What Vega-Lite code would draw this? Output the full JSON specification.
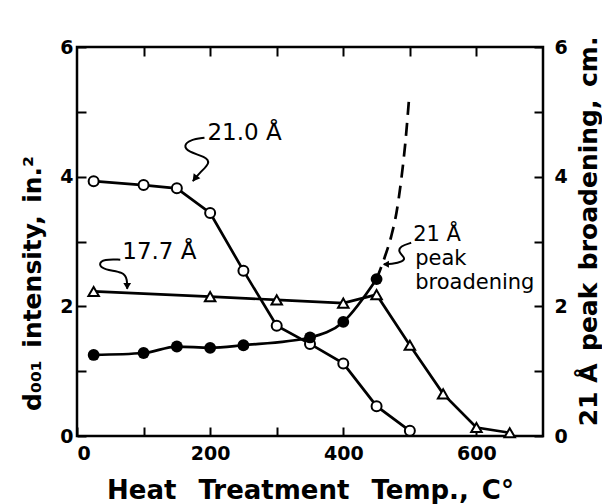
{
  "$schema": "https://vega.github.io/schema/vega-lite/v6.json",
  "width": 466,
  "height": 389,
  "autosize": "none",
  "padding": {"left": 77, "top": 47, "right": 59, "bottom": 68},
  "background": "white",
  "config": {
    "view": {"stroke": "black", "strokeWidth": 2.5},
    "font": "DejaVu Sans",
    "axis": {
      "domain": false, "grid": false, "ticks": true,
      "tickColor": "black", "tickWidth": 2, "tickSize": -9,
      "labelFont": "DejaVu Sans", "labelFontWeight": "bold", "labelFontSize": 19, "labelColor": "black",
      "titleFont": "DejaVu Sans", "titleFontWeight": "bold", "titleColor": "black"
    }
  },
  "datasets": {
    "open": [
      {"temp": 25, "v": 3.93}, {"temp": 100, "v": 3.87}, {"temp": 150, "v": 3.82}, {"temp": 200, "v": 3.44},
      {"temp": 250, "v": 2.55}, {"temp": 300, "v": 1.70}, {"temp": 350, "v": 1.42}, {"temp": 400, "v": 1.12},
      {"temp": 450, "v": 0.46}, {"temp": 500, "v": 0.08}
    ],
    "tri": [
      {"temp": 25, "v": 2.23}, {"temp": 200, "v": 2.15}, {"temp": 300, "v": 2.10}, {"temp": 400, "v": 2.05},
      {"temp": 450, "v": 2.18}, {"temp": 500, "v": 1.40}, {"temp": 550, "v": 0.65}, {"temp": 600, "v": 0.13},
      {"temp": 650, "v": 0.05}
    ],
    "filled": [
      {"temp": 25, "v": 1.25}, {"temp": 100, "v": 1.28}, {"temp": 150, "v": 1.38}, {"temp": 200, "v": 1.36},
      {"temp": 250, "v": 1.40}, {"temp": 350, "v": 1.52}, {"temp": 400, "v": 1.76}, {"temp": 450, "v": 2.42}
    ],
    "dash": [
      {"temp": 450, "v": 2.42}, {"temp": 462, "v": 2.75}, {"temp": 472, "v": 3.08}, {"temp": 480, "v": 3.45},
      {"temp": 487, "v": 3.95}, {"temp": 493, "v": 4.5}, {"temp": 499, "v": 5.23}
    ],
    "notes": [
      {"label": "21.0 Å", "temp": 196, "v": 4.68, "g": "big"},
      {"label": "17.7 Å", "temp": 68, "v": 2.84, "g": "big"},
      {"label": "21 Å", "temp": 505, "v": 3.10, "g": "small"},
      {"label": "peak", "temp": 508, "v": 2.73, "g": "small"},
      {"label": "broadening", "temp": 508, "v": 2.36, "g": "small"}
    ],
    "squig": [
      {"a": "s1", "o": 1, "temp": 191.5, "v": 4.60}, {"a": "s1", "o": 2, "temp": 170, "v": 4.57},
      {"a": "s1", "o": 3, "temp": 160, "v": 4.48}, {"a": "s1", "o": 4, "temp": 167, "v": 4.38},
      {"a": "s1", "o": 5, "temp": 193, "v": 4.31}, {"a": "s1", "o": 6, "temp": 200.5, "v": 4.21},
      {"a": "s1", "o": 7, "temp": 185, "v": 4.07}, {"a": "s1", "o": 8, "temp": 174, "v": 3.93},
      {"a": "s2", "o": 1, "temp": 65, "v": 2.72}, {"a": "s2", "o": 2, "temp": 40.7, "v": 2.73},
      {"a": "s2", "o": 3, "temp": 31.7, "v": 2.65}, {"a": "s2", "o": 4, "temp": 40.7, "v": 2.56},
      {"a": "s2", "o": 5, "temp": 70.9, "v": 2.53}, {"a": "s2", "o": 6, "temp": 75.4, "v": 2.41},
      {"a": "s2", "o": 7, "temp": 75.4, "v": 2.27},
      {"a": "s3", "o": 1, "temp": 502, "v": 2.98}, {"a": "s3", "o": 2, "temp": 485.5, "v": 2.93},
      {"a": "s3", "o": 3, "temp": 482.4, "v": 2.84}, {"a": "s3", "o": 4, "temp": 493, "v": 2.75},
      {"a": "s3", "o": 5, "temp": 490, "v": 2.69}, {"a": "s3", "o": 6, "temp": 472, "v": 2.65},
      {"a": "s3", "o": 7, "temp": 461, "v": 2.65}
    ],
    "tips": [
      {"a": "s1", "temp": 177, "v": 3.97},
      {"a": "s2", "temp": 75.4, "v": 2.31},
      {"a": "s3", "temp": 464, "v": 2.65}
    ]
  },
  "resolve": {"axis": {"x": "independent", "y": "independent"}},
  "layer": [
    {
      "data": {"name": "open"},
      "mark": {"type": "line", "color": "black", "strokeWidth": 2.7},
      "encoding": {
        "x": {"field": "temp", "type": "quantitative", "scale": {"domain": [0, 700], "nice": false},
          "axis": {"orient": "bottom", "values": [0, 100, 200, 300, 400, 500, 600],
            "labelExpr": "datum.value % 200 == 0 ? datum.label : ''", "labelPadding": 17,
            "title": "Heat\u2002 Treatment\u2002 Temp.,\u2002C°", "titleFontSize": 26, "titleY": 54, "titleBaseline": "middle"}},
        "y": {"field": "v", "type": "quantitative", "scale": {"domain": [0, 6], "nice": false},
          "axis": {"orient": "left", "values": [0, 1, 2, 3, 4, 5, 6],
            "labelExpr": "datum.value % 2 == 0 ? datum.label : ''", "labelPadding": 13,
            "title": "d₀₀₁\u2002intensity,\u2002in.²", "titleFontSize": 25, "titleAngle": -90,
            "titleX": -45, "titleY": 236, "titleBaseline": "middle", "titleAlign": "center"}}
      }
    },
    {
      "data": {"name": "tri"},
      "mark": {"type": "line", "color": "black", "strokeWidth": 2.7},
      "encoding": {
        "x": {"field": "temp", "type": "quantitative", "scale": {"domain": [0, 700], "nice": false}, "axis": null},
        "y": {"field": "v", "type": "quantitative", "scale": {"domain": [0, 6], "nice": false}, "axis": null}
      }
    },
    {
      "data": {"name": "filled"},
      "mark": {"type": "line", "color": "black", "strokeWidth": 2.7, "interpolate": "monotone"},
      "encoding": {
        "x": {"field": "temp", "type": "quantitative", "scale": {"domain": [0, 700], "nice": false},
          "axis": {"orient": "top", "values": [100, 200, 300, 400, 500, 600], "labels": false, "title": null}},
        "y": {"field": "v", "type": "quantitative", "scale": {"domain": [0, 6], "nice": false},
          "axis": {"orient": "right", "values": [0, 1, 2, 3, 4, 5, 6],
            "labelExpr": "datum.value % 2 == 0 ? datum.label : ''", "labelPadding": 20,
            "title": "21 Å\u2002peak\u2002broadening,\u2002cm.", "titleFontSize": 25, "titleAngle": 270,
            "titleX": 45, "titleY": 184, "titleBaseline": "middle", "titleAlign": "center"}}
      }
    },
    {
      "data": {"name": "dash"},
      "mark": {"type": "line", "color": "black", "strokeWidth": 2.7, "strokeDash": [13, 8], "interpolate": "monotone"},
      "encoding": {
        "x": {"field": "temp", "type": "quantitative", "scale": {"domain": [0, 700], "nice": false}, "axis": null},
        "y": {"field": "v", "type": "quantitative", "scale": {"domain": [0, 6], "nice": false}, "axis": null}
      }
    },
    {
      "data": {"name": "squig"},
      "mark": {"type": "line", "color": "black", "strokeWidth": 2, "interpolate": "basis"},
      "encoding": {
        "x": {"field": "temp", "type": "quantitative", "scale": {"domain": [0, 700], "nice": false}, "axis": null},
        "y": {"field": "v", "type": "quantitative", "scale": {"domain": [0, 6], "nice": false}, "axis": null},
        "detail": {"field": "a"},
        "order": {"field": "o", "type": "quantitative"}
      }
    },
    {
      "data": {"name": "tips"},
      "transform": [{"filter": "datum.a == 's1'"}],
      "mark": {"type": "point", "shape": "triangle-up", "filled": true, "color": "black", "size": 70, "angle": 217, "opacity": 1},
      "encoding": {
        "x": {"field": "temp", "type": "quantitative", "scale": {"domain": [0, 700], "nice": false}, "axis": null},
        "y": {"field": "v", "type": "quantitative", "scale": {"domain": [0, 6], "nice": false}, "axis": null}
      }
    },
    {
      "data": {"name": "tips"},
      "transform": [{"filter": "datum.a == 's2'"}],
      "mark": {"type": "point", "shape": "triangle-up", "filled": true, "color": "black", "size": 60, "angle": 180, "opacity": 1},
      "encoding": {
        "x": {"field": "temp", "type": "quantitative", "scale": {"domain": [0, 700], "nice": false}, "axis": null},
        "y": {"field": "v", "type": "quantitative", "scale": {"domain": [0, 6], "nice": false}, "axis": null}
      }
    },
    {
      "data": {"name": "tips"},
      "transform": [{"filter": "datum.a == 's3'"}],
      "mark": {"type": "point", "shape": "triangle-up", "filled": true, "color": "black", "size": 50, "angle": 270, "opacity": 1},
      "encoding": {
        "x": {"field": "temp", "type": "quantitative", "scale": {"domain": [0, 700], "nice": false}, "axis": null},
        "y": {"field": "v", "type": "quantitative", "scale": {"domain": [0, 6], "nice": false}, "axis": null}
      }
    },
    {
      "data": {"name": "open"},
      "mark": {"type": "point", "shape": "circle", "filled": false, "fill": "white", "stroke": "black", "strokeWidth": 2, "size": 100, "opacity": 1},
      "encoding": {
        "x": {"field": "temp", "type": "quantitative", "scale": {"domain": [0, 700], "nice": false}, "axis": null},
        "y": {"field": "v", "type": "quantitative", "scale": {"domain": [0, 6], "nice": false}, "axis": null}
      }
    },
    {
      "data": {"name": "tri"},
      "mark": {"type": "point", "shape": "triangle-up", "filled": false, "fill": "white", "stroke": "black", "strokeWidth": 2, "size": 110, "opacity": 1},
      "encoding": {
        "x": {"field": "temp", "type": "quantitative", "scale": {"domain": [0, 700], "nice": false}, "axis": null},
        "y": {"field": "v", "type": "quantitative", "scale": {"domain": [0, 6], "nice": false}, "axis": null}
      }
    },
    {
      "data": {"name": "filled"},
      "mark": {"type": "point", "shape": "circle", "filled": true, "color": "black", "size": 140, "opacity": 1},
      "encoding": {
        "x": {"field": "temp", "type": "quantitative", "scale": {"domain": [0, 700], "nice": false}, "axis": null},
        "y": {"field": "v", "type": "quantitative", "scale": {"domain": [0, 6], "nice": false}, "axis": null}
      }
    },
    {
      "data": {"name": "notes"},
      "transform": [{"filter": "datum.g == 'big'"}],
      "mark": {"type": "text", "align": "left", "baseline": "middle", "color": "black", "font": "DejaVu Sans", "fontSize": 23},
      "encoding": {
        "x": {"field": "temp", "type": "quantitative", "scale": {"domain": [0, 700], "nice": false}, "axis": null},
        "y": {"field": "v", "type": "quantitative", "scale": {"domain": [0, 6], "nice": false}, "axis": null},
        "text": {"field": "label"}
      }
    },
    {
      "data": {"name": "notes"},
      "transform": [{"filter": "datum.g == 'small'"}],
      "mark": {"type": "text", "align": "left", "baseline": "middle", "color": "black", "font": "DejaVu Sans", "fontSize": 21},
      "encoding": {
        "x": {"field": "temp", "type": "quantitative", "scale": {"domain": [0, 700], "nice": false}, "axis": null},
        "y": {"field": "v", "type": "quantitative", "scale": {"domain": [0, 6], "nice": false}, "axis": null},
        "text": {"field": "label"}
      }
    }
  ]
}
